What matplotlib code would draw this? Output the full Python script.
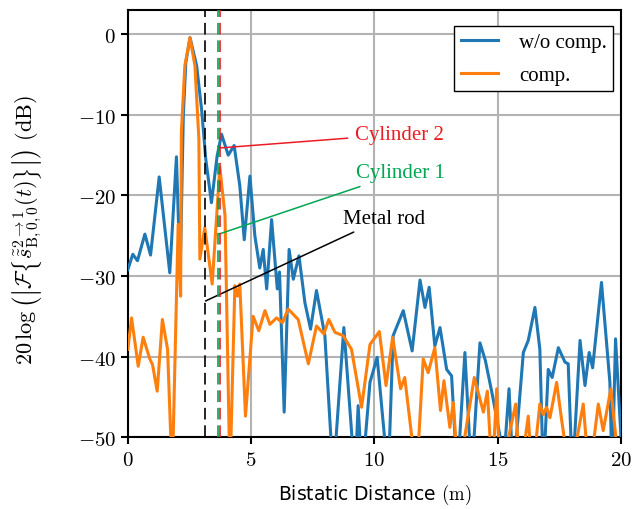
import matplotlib
matplotlib.use("Agg")
import matplotlib.pyplot as plt
from matplotlib.ticker import FuncFormatter

# values (distance in m, level in dB)
dist_wo = [0.0, 0.2, 0.39, 0.69, 0.92, 1.27, 1.70, 1.97, 2.12, 2.25, 2.35, 2.52, 2.79,
           2.99, 3.16, 3.39, 3.62, 3.80, 4.07, 4.31, 4.54, 4.72, 4.95, 5.15, 5.35, 5.49,
           5.63, 5.83, 6.06, 6.15, 6.34, 6.54, 6.71, 6.94, 7.18, 7.41, 7.65, 7.99, 8.33,
           8.76, 9.21, 9.34, 9.5, 9.82, 10.11, 10.56, 10.76, 11.17, 11.53, 11.85, 12.05,
           12.22, 12.45, 12.66, 12.93, 13.13, 13.36, 13.67, 13.94, 14.28, 14.5, 14.8,
           15.1, 15.2, 15.46, 15.63, 16.04, 16.24, 16.51, 16.71, 16.85, 17.05, 17.21,
           17.46, 17.73, 17.86, 18.03, 18.34, 18.54, 18.71, 18.85, 19.21, 19.55, 19.64,
           19.78, 20.0]
level_wo = [-29.2, -27.3, -28.1, -24.8, -27.4, -17.7, -29.6, -15.2, -30.0, -10.0, -3.5,
            -0.4, -3.9, -9.3, -15.5, -20.9, -15.1, -12.4, -15.0, -13.8, -18.8, -25.5,
            -17.6, -25.0, -29.0, -26.7, -31.6, -23.0, -31.6, -29.5, -46.9, -26.7, -30.4,
            -27.5, -33.3, -36.6, -31.8, -37.4, -55, -36.4, -55, -46.1, -55, -43.2, -40.1,
            -55, -37.4, -34.3, -39.3, -30.5, -33.9, -31.4, -38.7, -36.4, -41.6, -42.4,
            -55, -39.5, -55, -38.3, -40.5, -45.0, -50.0, -55, -44.0, -55, -39.5, -38.0,
            -33.9, -39.1, -55, -41.6, -42.6, -38.9, -40.7, -40.9, -55, -38.0, -43.6,
            -39.5, -41.4, -30.8, -43.2, -55, -37.8, -50.0]

dist_c = [0.0, 0.15, 0.42, 0.62, 0.89, 1.0, 1.19, 1.40, 1.61, 1.80, 2.04, 2.14, 2.17,
          2.31, 2.52, 2.72, 2.88, 2.92, 3.12, 3.42, 3.73, 3.94, 4.14, 4.34, 4.45, 4.54,
          4.77, 5.08, 5.31, 5.56, 5.76, 6.03, 6.27, 6.5, 6.91, 7.32, 7.65, 7.95, 8.15,
          8.4, 8.73, 9.07, 9.48, 9.82, 10.2, 10.47, 10.74, 11.06, 11.23, 11.71, 11.98,
          12.18, 12.45, 12.68, 12.82, 13.06, 13.2, 13.4, 14.05, 14.42, 14.58, 14.78,
          14.96, 15.09, 15.73, 15.9, 16.24, 16.4, 16.71, 16.85, 16.98, 17.12, 17.39,
          17.59, 17.93, 18.47, 18.71, 19.08, 19.28, 19.59, 19.96]
level_c = [-39.1, -35.2, -41.2, -37.6, -40.3, -41.0, -44.3, -35.4, -39.1, -55, -23.6,
           -32.5, -12.2, -3.9, -0.4, -3.9, -13.0, -27.9, -24.0, -31.0, -16.5, -22.5, -55,
           -31.2, -32.5, -31.0, -47.4, -35.0, -36.8, -34.3, -36.0, -35.2, -35.8, -34.1,
           -35.4, -40.9, -36.2, -37.2, -35.4, -37.0, -37.4, -39.1, -46.3, -38.5, -36.9,
           -43.6, -37.6, -44.0, -42.6, -55, -40.3, -42.0, -38.9, -46.7, -43.0, -48.8,
           -45.7, -55, -42.6, -46.9, -44.3, -55, -44.0, -55, -45.9, -55, -47.4, -55,
           -45.9, -47.2, -46.3, -47.6, -43.2, -47.8, -55, -45.9, -55, -45.9, -49.2,
           -44.0, -55]

marker_pos = [3.12, 3.65, 3.73]
marker_col = ['black', '#00a651', '#ed1c24']

plt.rcParams['mathtext.fontset'] = 'cm'
serif = ['Liberation Serif', 'DejaVu Serif']

fig = plt.figure(figsize=(6.33, 5.1), dpi=100)
ax = fig.add_axes([0.202, 0.141, 0.779, 0.837])

ax.grid(True, color='#b3b3b3', lw=1.5, zorder=0)
ax.set_axisbelow(True)

ax.plot(dist_wo, level_wo, color='#1f77b4', lw=2.2, label='w/o comp.', zorder=3)
ax.plot(dist_c, level_c, color='#ff7f0e', lw=2.2, label='comp.', zorder=3)

for xp, col in zip(marker_pos, marker_col):
    ax.axvline(xp, color=col, lw=1.2, ls=(0, (7, 3.5)), zorder=4)

# annotations
ax.annotate('Cylinder 2', xy=(3.73, -14.1), xytext=(9.2, -12.4), color='#ed1c24',
            family=serif, fontsize=15, ha='left', va='center',
            arrowprops=dict(arrowstyle='-', color='#ed1c24', lw=1.1, shrinkA=3, shrinkB=0))
ax.annotate('Cylinder 1', xy=(3.69, -24.8), xytext=(9.25, -17.2), color='#00a651',
            family=serif, fontsize=15, ha='left', va='center',
            arrowprops=dict(arrowstyle='-', color='#00a651', lw=1.1, shrinkA=3, shrinkB=0))
ax.annotate('Metal rod', xy=(3.15, -33.1), xytext=(8.72, -22.8), color='black',
            family=serif, fontsize=15, ha='left', va='center',
            arrowprops=dict(arrowstyle='-', color='black', lw=1.1, shrinkA=3, shrinkB=0))

ax.set_xlim(0, 20)
ax.set_ylim(-50, 3)
ax.set_xticks([0, 5, 10, 15, 20])
ax.set_yticks([0, -10, -20, -30, -40, -50])
fmt = FuncFormatter(lambda v, p: f'${v:g}$')
ax.xaxis.set_major_formatter(fmt)
ax.yaxis.set_major_formatter(fmt)
ax.tick_params(labelsize=15, width=1.5, length=5)
for s in ax.spines.values():
    s.set_linewidth(1.5)

ax.set_xlabel(r'Bistatic Distance $(\mathrm{m})$', fontsize=13.5)
ax.xaxis.set_label_coords(0.5, -0.105)
ax.set_ylabel(r'$20\,\log\left(\left|\mathcal{F}\left\{\tilde{\tilde{s}}^{2\to 1}_{\mathrm{B},0,0}(t)\right\}\right|\right)\ (\mathrm{dB})$',
              fontsize=16)
ax.yaxis.set_label_coords(-0.17, 0.487)

leg = ax.legend(loc='upper right', fancybox=False, edgecolor='black', framealpha=1,
                prop={'family': serif, 'size': 15}, borderpad=0.3, labelspacing=0.65,
                handlelength=1.8, handletextpad=1.0, borderaxespad=0,
                bbox_to_anchor=(0.984, 0.9625))
leg.get_frame().set_linewidth(1.0)

fig.savefig('out.png', dpi=100)
